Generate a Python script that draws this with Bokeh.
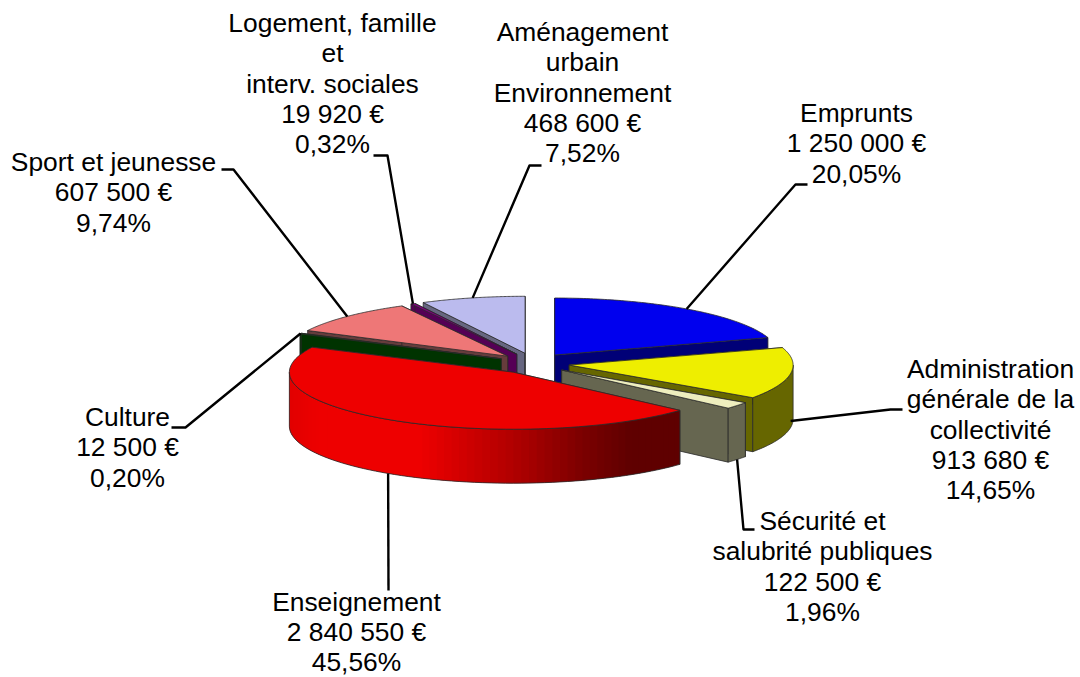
import math
from bokeh.plotting import figure
from bokeh.models import Range1d
from bokeh.core.properties import value
from bokeh.embed import file_html
from bokeh.resources import INLINE

# ---- data, clockwise from the top of the pie
names = ["Emprunts", "Administration générale de la collectivité", "Sécurité et salubrité publiques",
         "Enseignement", "Culture", "Sport et jeunesse",
         "Logement, famille et interv. sociales", "Aménagement urbain Environnement"]
amounts = [1250000, 913680, 122500, 2840550, 12500, 607500, 19920, 468600]
amount_labels = ["1 250 000 €", "913 680 €", "122 500 €", "2 840 550 €", "12 500 €", "607 500 €", "19 920 €", "468 600 €"]
percent_labels = ["20,05%", "14,65%", "1,96%", "45,56%", "0,20%", "9,74%", "0,32%", "7,52%"]
name_lines = [["Emprunts"], ["Administration", "générale de la", "collectivité"],
              ["Sécurité et", "salubrité publiques"], ["Enseignement"], ["Culture"],
              ["Sport et jeunesse"], ["Logement, famille", "et", "interv. sociales"],
              ["Aménagement", "urbain", "Environnement"]]

# ---- style and layout
top_colors = ["#0000ee", "#eeee00", "#eeeebe", "#ee0000", "#004000", "#ee7777", "#800080", "#bbbbee"]
wall_colors = ["#000077", "#666600", "#666650", "#cc0000", "#003300", "#663c3c", "#550055", "#666680"]
CX, CY, RX, RY, DEPTH = 533.0, 363.0, 224.0, 57.0, 54.0
EXPLODE_X, EXPLODE_Y = 36.0, 10.5
label_x = [856, 990, 822, 356, 127, 113, 332, 582]
label_y0 = [112.5, 368.5, 520.5, 601, 416.5, 161.5, 22.5, 31.5]
LINE_H = 30.3
leader_depth = [0, 0.88, 1, 1, 0, 0, 0, 0]
elbows = [[(795, 184), (807, 184)], [(890, 409), (902, 409)], [(743, 529), (754, 529)], [(388, 590)],
          [(185, 427), (171, 427)], [(233, 169), (221, 169)], [(387, 155), (373, 155)], [(529, 165), (541, 165)]]
red_stops = [(287, 225), (320, 238), (420, 238), (470, 205), (530, 165), (580, 125), (630, 95), (681, 95)]
draw_order = [0, 7, 6, 5, 4, 1, 2, 3]

total = sum(amounts)
starts, cum = [], 0
for a in amounts:
    starts.append(cum / total * 360)
    cum += a
ends = [s + a / total * 360 for s, a in zip(starts, amounts)]
mids = [(s + e) / 2 for s, e in zip(starts, ends)]
apex = [(CX + EXPLODE_X * math.sin(math.radians(m)), CY - EXPLODE_Y * math.cos(math.radians(m))) for m in mids]


def rim(i, deg):
    ax, ay = apex[i]
    t = math.radians(deg)
    return ax + RX * math.sin(t), ay - RY * math.cos(t)


def arc(i, a, b, n=80):
    n = max(2, n)
    return [rim(i, a + (b - a) * k / (n - 1)) for k in range(n)]


p = figure(width=1080, height=677, x_range=Range1d(0, 1080), y_range=Range1d(677, 0),
           output_backend="svg", toolbar_location=None, min_border=0)
p.axis.visible = False
p.grid.visible = False
p.outline_line_color = None
p.background_fill_color = "white"

EDGE = "#2a2a2a"


def poly(pts, fill, line=EDGE, lw=0.8):
    p.patch([q[0] for q in pts], [q[1] for q in pts], fill_color=fill, line_color=line, line_width=lw)


def red_shade(x):
    for (x0, v0), (x1, v1) in zip(red_stops, red_stops[1:]):
        if x0 <= x <= x1:
            v = v0 + (v1 - v0) * (x - x0) / (x1 - x0)
            return "#%02x0000" % int(v)
    return "#%02x0000" % red_stops[-1][1]


for i in draw_order:
    ax, ay = apex[i]
    s, e = starts[i], ends[i]
    for ang in (s, e):
        rx_, ry_ = rim(i, ang)
        poly([(ax, ay), (rx_, ry_), (rx_, ry_ + DEPTH), (ax, ay + DEPTH)], wall_colors[i])
    a0, a1 = max(s, 90), min(e, 270)
    if a1 > a0:
        pts = arc(i, a0, a1, 70 if i == 3 else 40)
        if i == 3:
            for k in range(len(pts) - 1):
                x0, y0 = pts[k]
                x1, y1 = pts[min(k + 2, len(pts) - 1)]
                c = red_shade((x0 + pts[k + 1][0]) / 2)
                poly([(x0, y0), (x1, y1), (x1, y1 + DEPTH), (x0, y0 + DEPTH)], c, None, 0)
            outline = pts + [(x, y + DEPTH) for x, y in reversed(pts)] + [pts[0]]
            p.line([q[0] for q in outline], [q[1] for q in outline], line_color=EDGE, line_width=0.8)
        else:
            poly(pts + [(x, y + DEPTH) for x, y in reversed(pts)], wall_colors[i])
    poly([(ax, ay)] + arc(i, s, e), top_colors[i])

# leader lines, from the rim at each slice's middle angle
for i, m in enumerate(mids):
    x0, y0 = rim(i, m)
    y0 += DEPTH * leader_depth[i]
    xs = [x0] + [q[0] for q in elbows[i]]
    ys = [y0] + [q[1] for q in elbows[i]]
    p.line(xs, ys, line_color="black", line_width=2.4, line_join="round")

# labels
for i in range(len(names)):
    lines = name_lines[i] + [amount_labels[i], percent_labels[i]]
    p.text([label_x[i]] * len(lines), [label_y0[i] + LINE_H * k for k in range(len(lines))], text=lines,
           text_align="center", text_baseline="middle", text_color="black",
           text_font=value("Liberation Sans"), text_font_size="26.4px")

open("out.html", "w").write(file_html(p, INLINE))
